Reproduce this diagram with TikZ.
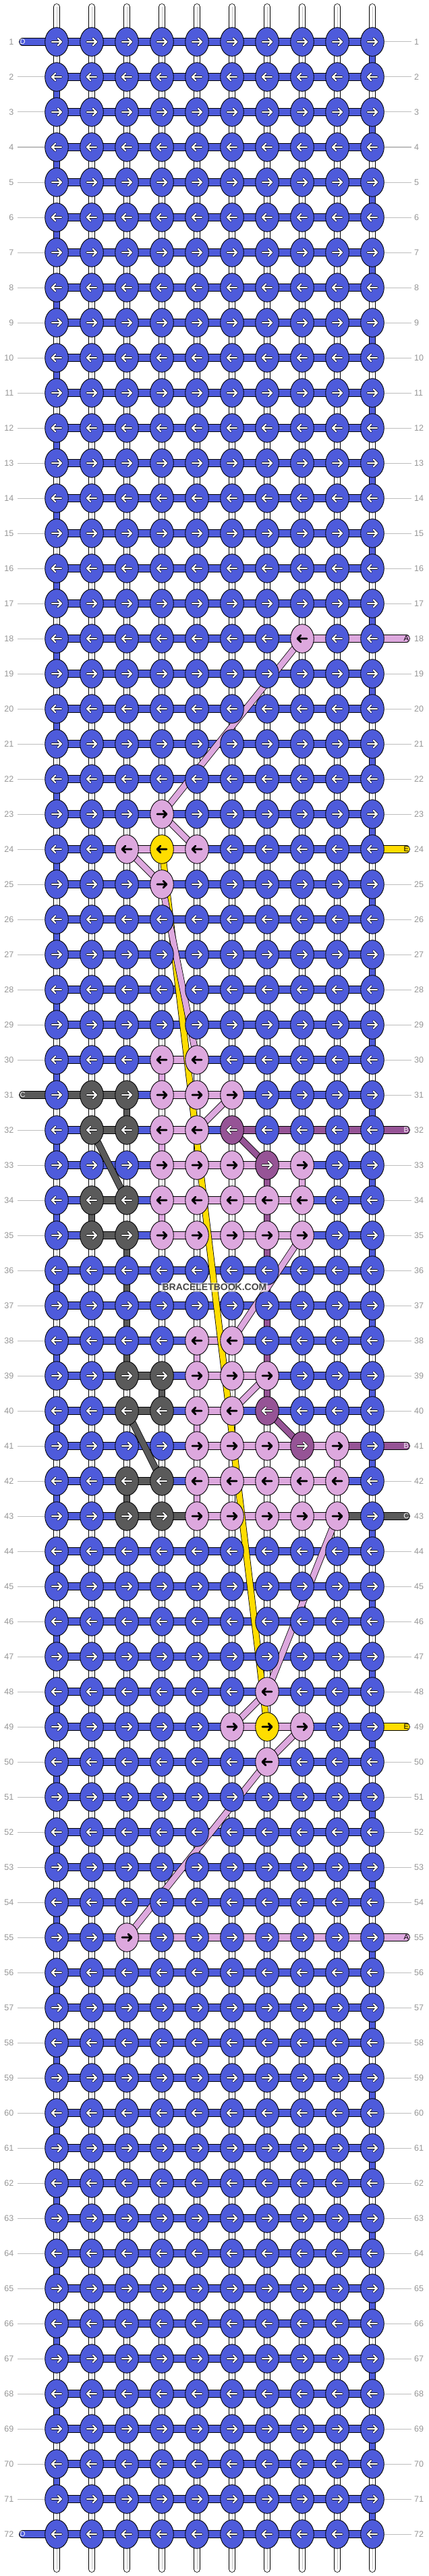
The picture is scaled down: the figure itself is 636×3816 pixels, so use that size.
\documentclass[tikz,border=0pt]{standalone}
\usepackage{fontspec}
\setmainfont{Liberation Sans}
\usetikzlibrary{shapes.geometric}
\definecolor{cB}{RGB}{78,91,219}
\definecolor{cP}{RGB}{221,168,222}
\definecolor{cY}{RGB}{255,221,0}
\definecolor{cG}{RGB}{90,90,90}
\definecolor{cU}{RGB}{150,84,150}
\definecolor{lblgray}{RGB}{150,150,150}
\definecolor{lingray}{RGB}{190,190,190}
\definecolor{strgray}{RGB}{195,195,195}
\definecolor{wmtext}{RGB}{70,70,70}
\newcommand\setkn[2]{\foreach \a/\b in {#2}{\expandafter\xdef\csname kc-\a-\b\endcsname{#1}}}
\setkn{P}{8/18,4/23,3/24,5/24,4/25,4/30,5/30,4/31,5/31,6/31,4/32,5/32,4/33,5/33,6/33,8/33,4/34,5/34,6/34,7/34,8/34,4/35,5/35,6/35,7/35,8/35,5/38,6/38,5/39,6/39,7/39,5/40,6/40,5/41,6/41,7/41,9/41,5/42,6/42,7/42,8/42,9/42,5/43,6/43,7/43,8/43,9/43,7/48,6/49,8/49,7/50,3/55}
\setkn{Y}{4/24,7/49}
\setkn{G}{2/31,3/31,2/32,3/32,2/34,3/34,2/35,3/35,3/39,4/39,3/40,4/40,3/42,4/42,3/43,4/43}
\setkn{U}{6/32,7/33,7/40,8/41}
\newcommand\kArrR[3]{\draw[draw=#2,line width=#3,line cap=round,line join=round] (#1) ++(-7,0) -- ++(14,0) ++(-5,-5) -- ++(5,5) -- ++(-5,5);}
\newcommand\kArrL[3]{\draw[draw=#2,line width=#3,line cap=round,line join=round] (#1) ++(7,0) -- ++(-14,0) ++(5,-5) -- ++(-5,5) -- ++(5,5);}
\tikzset{
  strandW/.style={line width=0.8pt,draw=black,double=white,double distance=8.4pt,line cap=round},
  strandline/.style={draw=strgray,line width=1pt},
  hb/.style={line width=0.8pt,draw=black,double=#1,double distance=9.6pt},
  vb/.style={line width=0.8pt,draw=black,double=#1,double distance=8.8pt},
  dg/.style={line width=0.8pt,draw=black,double=#1,double distance=8.4pt},
  tipbar/.style={line width=0.8pt,draw=black,double=#1,double distance=9.6pt,line cap=round},
  knot/.style={ellipse,draw=black,line width=0.9pt,minimum width=34.6pt,minimum height=42.6pt,inner sep=0pt},
  lbl/.style={inner sep=0pt,text=lblgray,font=\fontsize{12.5}{14}\selectfont},
  gline/.style={draw=lingray,line width=1pt},
  tiptext/.style={inner sep=0pt,font=\fontsize{11}{12}\selectfont},
  wm/.style={fill=white,fill opacity=0.55,text opacity=1,text=wmtext,inner sep=2pt,font=\bfseries\fontsize{14}{16}\selectfont}
}
\begin{document}
\begin{tikzpicture}[x=1pt,y=-1pt]
\useasboundingbox (0,0) rectangle (636,3816);
% grid coordinates
\foreach \rw in {1,...,72}{\foreach \cl in {1,...,10}{\coordinate (p-\cl-\rw) at ({84+52*(\cl-1)},{62+52*(\rw-1)});}}
% white vertical strands
\foreach \cl in {1,...,10}{
  \coordinate (st-\cl) at ({84+52*(\cl-1)},10.2);
  \coordinate (sb-\cl) at ({84+52*(\cl-1)},3805.8);
  \draw[strandW] (st-\cl) -- (sb-\cl);
  \draw[strandline] (st-\cl) -- (sb-\cl);
}
% horizontal bars
\foreach \rw in {1,...,72}{\foreach \cl in {1,...,9}{\pgfmathtruncatemacro\cn{\cl+1}\draw[hb=cB] (p-\cl-\rw) -- (p-\cn-\rw);}}
\foreach \rw/\cl/\kk in {18/8/P,18/9/P,24/3/P,24/4/P,30/4/P,31/1/G,31/2/G,31/4/P,31/5/P,32/2/G,32/4/P,32/6/U,32/7/U,32/8/U,32/9/U,33/4/P,33/5/P,33/6/P,33/7/P,34/2/G,34/4/P,34/5/P,34/6/P,34/7/P,35/2/G,35/4/P,35/5/P,35/6/P,35/7/P,38/5/P,39/3/G,39/5/P,39/6/P,40/3/G,40/5/P,41/5/P,41/6/P,41/7/P,41/8/P,41/9/U,42/3/G,42/5/P,42/6/P,42/7/P,42/8/P,43/3/G,43/4/G,43/5/P,43/6/P,43/7/P,43/8/P,43/9/G,49/6/P,49/7/P,55/3/P,55/4/P,55/5/P,55/6/P,55/7/P,55/8/P,55/9/P}{\pgfmathtruncatemacro\cn{\cl+1}\draw[hb=c\kk] (p-\cl-\rw) -- (p-\cn-\rw);}
% turnaround verticals
\foreach \rw in {1,3,...,71}{\pgfmathtruncatemacro\rn{\rw+1}\draw[vb=cB] (p-10-\rw) -- (p-10-\rn);}
\foreach \rw in {2,4,...,70}{\pgfmathtruncatemacro\rn{\rw+1}\draw[vb=cB] (p-1-\rw) -- (p-1-\rn);}
% coloured verticals
\foreach \cl/\rw/\kk in {4/30/P,4/32/P,8/33/P,4/34/P,5/38/P,5/40/P,9/41/P,5/42/P,3/31/G,2/34/G,3/35/G,3/36/G,3/37/G,3/38/G,4/39/G,3/42/G,7/33/U,7/34/U,7/35/U,7/36/U,7/37/U,7/38/U,7/39/U}{\pgfmathtruncatemacro\rn{\rw+1}\draw[vb=c\kk] (p-\cl-\rw) -- (p-\cl-\rn);}
% tips
\foreach \rw/\kk/\tx/\tc in {1/B/D/white,31/G/C/white,72/B/D/white}{
  \coordinate (tl-\rw) at (33.6,{62+52*(\rw-1)});
  \draw[tipbar=c\kk] (p-1-\rw) -- (tl-\rw);
  \node[tiptext,text=\tc] (tlt-\rw) at (tl-\rw) {\tx};
}
\foreach \rw/\kk/\tx/\tc in {18/P/A/black,24/Y/E/black,32/U/B/white,41/U/B/white,43/G/C/white,49/Y/E/black,55/P/A/black}{
  \coordinate (tr-\rw) at (602.4,{62+52*(\rw-1)});
  \draw[tipbar=c\kk] (p-10-\rw) -- (tr-\rw);
  \node[tiptext,text=\tc] (trt-\rw) at (tr-\rw) {\tx};
}
% diagonal strands
\draw[dg=cY] (p-4-24) -- (p-7-49);
\foreach \a/\b/\kk in {8-18/4-23/P,4-23/5-24/P,3-24/4-25/P,4-25/5-30/P,6-31/5-32/P,8-35/6-38/P,7-39/6-40/P,9-43/7-48/P,7-48/6-49/P,8-49/7-50/P,7-50/3-55/P,2-32/3-34/G,3-40/4-42/G,6-32/7-33/U,7-40/8-41/U}{\draw[dg=c\kk] (p-\a) -- (p-\b);}
% knots
\foreach \rw in {1,...,72}{
  \pgfmathtruncatemacro\odd{mod(\rw,2)}
  \foreach \cl in {1,...,10}{
    \ifcsname kc-\cl-\rw\endcsname\edef\kc{\csname kc-\cl-\rw\endcsname}\else\def\kc{B}\fi
    \def\ain{white}\def\aow{3.8pt}
    \if P\kc\def\ain{black}\def\aow{2.8pt}\fi
    \if Y\kc\def\ain{black}\def\aow{2.8pt}\fi
    \node[knot,fill=c\kc] (k-\cl-\rw) at (p-\cl-\rw) {};
    \ifnum\odd=1
      \kArrR{k-\cl-\rw.center}{black}{\aow}\kArrR{k-\cl-\rw.center}{\ain}{2.2pt}
    \else
      \kArrL{k-\cl-\rw.center}{black}{\aow}\kArrL{k-\cl-\rw.center}{\ain}{2.2pt}
    \fi
  }
}
% row labels and guide lines
\foreach \rw in {1,...,72}{
  \node[lbl,anchor=east] (ll-\rw) at (20.5,{62+52*(\rw-1)}) {\rw};
  \node[lbl,anchor=west] (lr-\rw) at (614,{62+52*(\rw-1)}) {\rw};
  \pgfmathtruncatemacro\hasL{(\rw==1)||(\rw==31)||(\rw==72)}
  \pgfmathtruncatemacro\hasR{(\rw==18)||(\rw==24)||(\rw==32)||(\rw==41)||(\rw==43)||(\rw==49)||(\rw==55)}
  \ifnum\hasL=0 \draw[gline] (ll-\rw.east) ++(5.5,0) -- (k-1-\rw.west);\fi
  \ifnum\hasR=0 \draw[gline] (k-10-\rw.east) -- ([xshift=-4pt]lr-\rw.west);\fi
}
% watermark
\node[wm] (wm) at (318,1907) {BRACELETBOOK.COM};
\end{tikzpicture}
\end{document}
